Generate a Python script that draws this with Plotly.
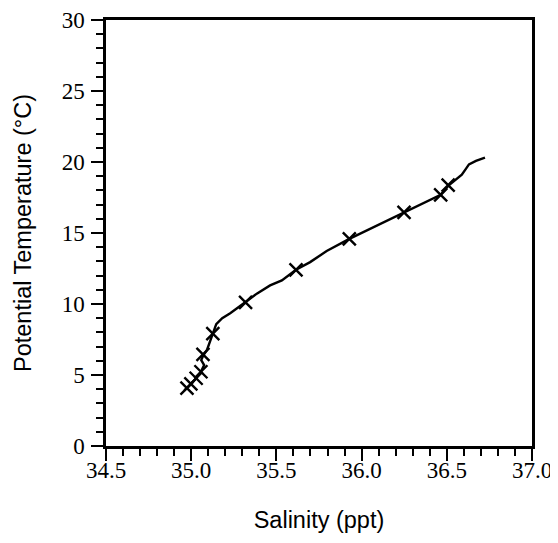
import plotly.graph_objects as go

# Continuous profile (salinity ppt, potential temperature °C)
line_salinity = [34.975, 34.998, 35.029, 35.057, 35.076, 35.059, 35.072, 35.092, 35.111, 35.127,
                 35.147, 35.182, 35.229, 35.275, 35.317, 35.385, 35.463, 35.532, 35.615, 35.698,
                 35.795, 35.928, 36.049, 36.206, 36.249, 36.362, 36.464, 36.508, 36.547, 36.588,
                 36.612, 36.630, 36.671, 36.724]
line_temperature = [4.07, 4.37, 4.77, 5.23, 5.70, 6.05, 6.40, 6.75, 7.45, 7.92,
                    8.58, 9.00, 9.35, 9.73, 10.12, 10.73, 11.31, 11.66, 12.41, 12.95,
                    13.73, 14.59, 15.29, 16.19, 16.45, 17.15, 17.69, 18.32, 18.67, 19.10,
                    19.52, 19.83, 20.08, 20.31]

# Bottle samples (crosses)
sample_salinity = [34.975, 34.998, 35.029, 35.057, 35.069, 35.127, 35.319, 35.615, 35.928,
                   36.249, 36.464, 36.508]
sample_temperature = [4.07, 4.37, 4.77, 5.23, 6.45, 7.92, 10.12, 12.41, 14.59,
                      16.45, 17.69, 18.37]

x_ticks = [34.5, 35.0, 35.5, 36.0, 36.5, 37.0]
x_tick_labels = ["34.5", "35.0", "35.5", "36.0", "36.5", "37.0"]
y_ticks = [0, 5, 10, 15, 20, 25, 30]

fig = go.Figure()
fig.add_trace(go.Scatter(x=line_salinity, y=line_temperature, mode="lines",
                         line=dict(color="black", width=2.4), hoverinfo="skip"))
fig.add_trace(go.Scatter(x=sample_salinity, y=sample_temperature, mode="markers",
                         marker=dict(symbol="x-thin", size=13, color="black",
                                     line=dict(color="black", width=2.4))))

tick_font = dict(family="Liberation Serif, Times New Roman, serif", size=23, color="black")
title_font = dict(family="Liberation Sans, Arial, sans-serif", size=23.5, color="black")

fig.update_layout(
    width=558, height=543,
    margin=dict(l=98, r=34, t=12, b=105),
    plot_bgcolor="white", paper_bgcolor="white",
    showlegend=False,
    xaxis=dict(range=[34.5, 37.0], tickvals=x_ticks, ticktext=x_tick_labels,
               automargin=False, ticklabeloverflow="allow",
               showgrid=False, zeroline=False, showline=True, mirror=True,
               linecolor="black", linewidth=2.5, ticks="outside", ticklen=12,
               tickwidth=2, tickcolor="black", tickfont=tick_font,
               ticklabelstandoff=-10,
               minor=dict(dtick=0.1, ticks="outside", ticklen=7, tickwidth=1.5,
                          tickcolor="black", showgrid=False),
               title=dict(text="Salinity (ppt)", font=title_font, standoff=30)),
    yaxis=dict(range=[0, 30], tickvals=y_ticks,
               automargin=False, ticklabeloverflow="allow",
               showgrid=False, zeroline=False, showline=True, mirror=True,
               linecolor="black", linewidth=2.5, ticks="outside", ticklen=12,
               tickwidth=2, tickcolor="black", tickfont=tick_font,
               ticklabelstandoff=2,
               minor=dict(dtick=1, ticks="outside", ticklen=7, tickwidth=1.5,
                          tickcolor="black", showgrid=False),
               title=dict(text="Potential Temperature (°C)", font=title_font, standoff=24)),
)

fig.write_html("out.html")
